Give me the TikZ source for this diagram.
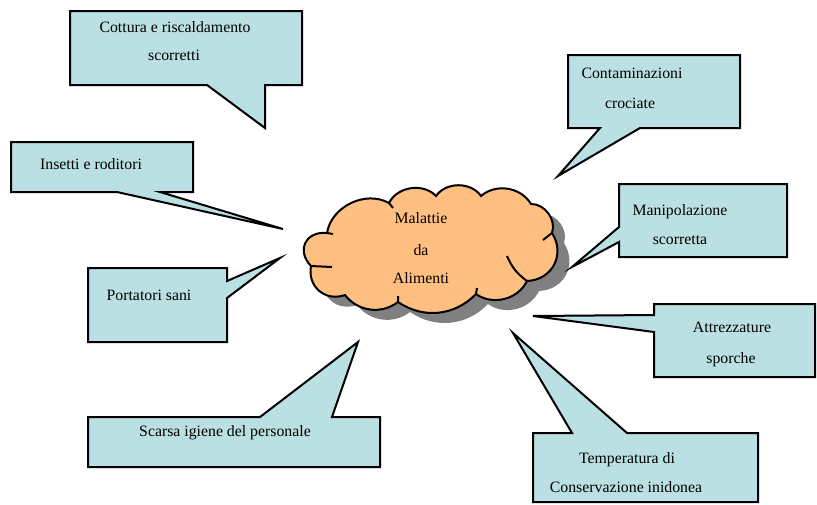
\documentclass[tikz,border=0pt]{standalone}
\usepackage{fontspec}
\setmainfont{Liberation Serif}
\usetikzlibrary{positioning}

\definecolor{bubbleblue}{RGB}{187,224,227}
\definecolor{cloudorange}{RGB}{255,191,128}
\definecolor{shadowgray}{RGB}{128,128,128}

% outline of the cloud, in picture units
\newcommand{\cloudoutline}{%
  (327,-233) to[bend left=55] (389,-203)
  to[bend left=55] (436,-196)
  to[bend left=55] (481,-196)
  to[bend left=50] (531,-204)
  to[bend left=55] (552,-233)
  to[bend left=60,looseness=1.2] (527,-281)
  to[bend left=50] (476,-294)
  to[bend left=40] (398,-302)
  to[bend left=45] (345,-295)
  to[bend left=60,looseness=1.2] (311,-266)
  to[bend left=70,looseness=1.5] (327,-233) -- cycle}

\begin{document}
\begin{tikzpicture}
  [x=1pt,y=1pt,
   bubble/.style={draw=black,
                  fill=bubbleblue,
                  line width=2pt,
                  line join=miter},
   txt/.style={font=\fontsize{15.8}{18}\selectfont,
               inner sep=0pt,
               anchor=base}]
  \useasboundingbox (0,0) rectangle (817,-504);

  % the cloud
  \fill[shadowgray,shift={(12,-10)}] \cloudoutline;
  \draw[fill=cloudorange,line width=2pt] \cloudoutline;
  \draw[line width=2pt]
    (327,-233) -- (333,-234)
    (389,-203) -- (393,-208)
    (552,-233) -- (543,-240)
    (507,-256) to[bend right=15] (527,-281)
    (311,-266) -- (332,-267)
    (476,-294) -- (477,-288)
    (398,-302) -- (398,-296);
  \node[txt] (mal1) at (421,-223) {Malattie};
  \node[txt] (mal2) at (421,-255) {da};
  \node[txt] (mal3) at (421,-283) {Alimenti};

  % the callouts
  \draw[bubble] (70,-11) -- (302,-11) -- (302,-85) -- (265,-85)
    -- (265,-128) coordinate (cottip) -- (207,-85) -- (70,-85) -- cycle;
  \node[txt] (cott1) at (175,-32) {Cottura e riscaldamento};
  \node[txt] (cott2) at (174,-60) {scorretti};

  \draw[bubble] (11,-142) -- (193,-142) -- (193,-192) -- (160,-192)
    -- (283,-229) coordinate (instip) -- (117,-192) -- (11,-192) -- cycle;
  \node[txt] (ins) at (91,-169) {Insetti e roditori};

  \draw[bubble] (88,-268) -- (227,-268) -- (227,-281)
    -- (280,-258) coordinate (porttip) -- (227,-298) -- (227,-342)
    -- (88,-342) -- cycle;
  \node[txt] (port) at (149,-300) {Portatori sani};

  \draw[bubble] (568,-55) -- (740,-55) -- (740,-128) -- (640,-128)
    -- (558,-176) coordinate (conttip) -- (600,-128) -- (568,-128) -- cycle;
  \node[txt] (cont1) at (632,-78) {Contaminazioni};
  \node[txt] (cont2) at (630,-108) {crociate};

  \draw[bubble] (619,-184) -- (787,-184) -- (787,-257) -- (619,-257)
    -- (619,-242) -- (572,-267) coordinate (maniptip) -- (619,-227) -- cycle;
  \node[txt] (manip1) at (680,-215) {Manipolazione};
  \node[txt] (manip2) at (680,-244) {scorretta};

  \draw[bubble] (654,-304) -- (815,-304) -- (815,-377) -- (654,-377)
    -- (654,-332) -- (533,-316) coordinate (attrtip) -- (654,-315) -- cycle;
  \node[txt] (attr1) at (732,-332) {Attrezzature};
  \node[txt] (attr2) at (731,-363) {sporche};

  \draw[bubble] (533,-433) -- (572,-433) -- (513,-333) coordinate (temptip)
    -- (627,-433) -- (758,-433) -- (758,-502) -- (533,-502) -- cycle;
  \node[txt] (temp1) at (627,-463) {Temperatura di};
  \node[txt] (temp2) at (626,-492) {Conservazione inidonea};

  \draw[bubble] (88,-417) -- (260,-417) -- (358,-342) coordinate (scartip)
    -- (332,-417) -- (380,-417) -- (380,-467) -- (88,-467) -- cycle;
  \node[txt] (scarsa) at (225,-436) {Scarsa igiene del personale};
\end{tikzpicture}
\end{document}
